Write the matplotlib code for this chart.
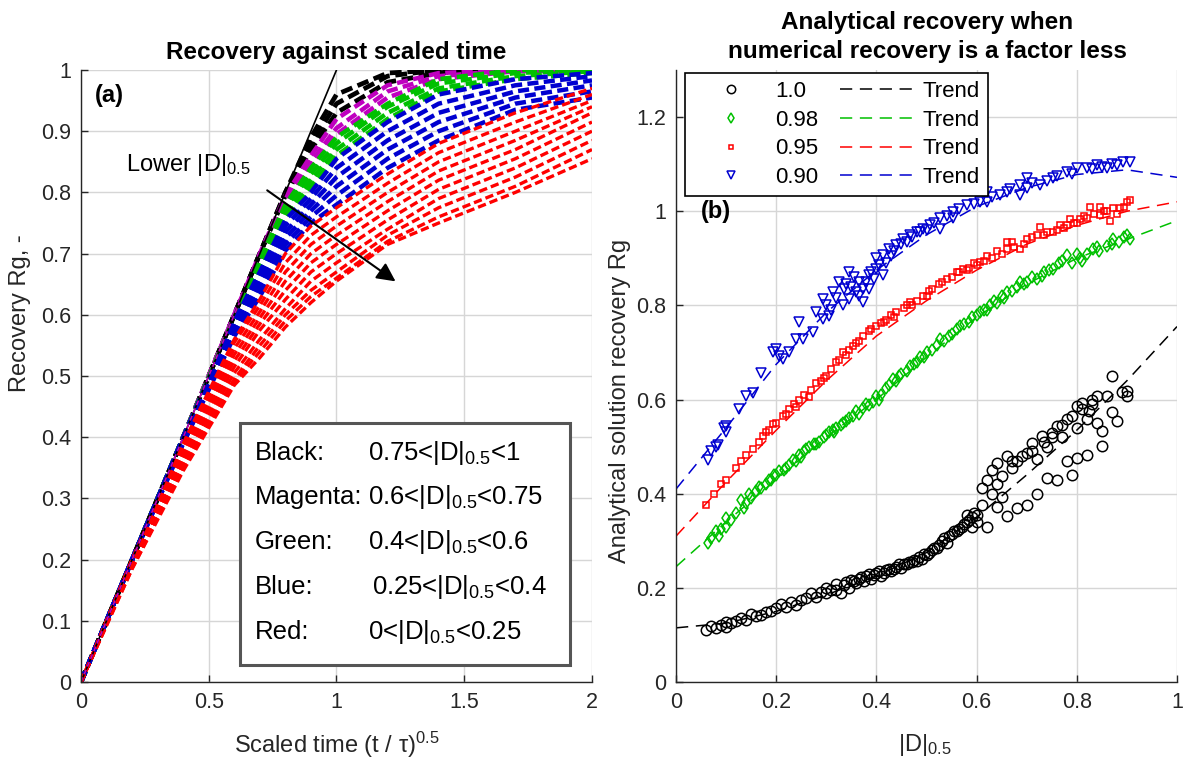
import matplotlib
matplotlib.use('Agg')
import matplotlib.pyplot as plt
from matplotlib.lines import Line2D
from matplotlib.patches import Rectangle
from matplotlib.ticker import FuncFormatter
import numpy as np

plt.rcParams['font.family'] = ['Liberation Sans', 'DejaVu Sans']
plt.rcParams['mathtext.fontset'] = 'custom'
plt.rcParams['mathtext.rm'] = 'Liberation Sans'
plt.rcParams['mathtext.it'] = 'Liberation Sans:italic'
plt.rcParams['mathtext.bf'] = 'Liberation Sans:bold'

# ---------------- panel (a): recovery curves vs scaled time ----------------
scaled_time = [0, 0.2, 0.4, 0.6, 0.7, 0.8, 0.9, 1.0, 1.2, 1.4, 1.7, 2.0]

black_curves = [
    [0, .2, .4, .6, .7, .8, .89, .96, .995, 1, 1, 1],
    [0, .2, .4, .6, .7, .8, .88, .945, .99, 1, 1, 1],
    [0, .2, .4, .6, .7, .795, .87, .93, .98, .995, 1, 1],
]
magenta_curves = [
    [0, .2, .4, .6, .7, .795, .86, .92, .975, .995, 1, 1],
    [0, .2, .4, .6, .695, .79, .85, .905, .965, .99, 1, 1],
    [0, .2, .4, .6, .69, .785, .845, .895, .955, .985, .998, 1],
]
green_curves = [
    [0, .2, .4, .595, .69, .78, .84, .89, .945, .985, 1, 1],
    [0, .2, .4, .595, .685, .775, .83, .88, .94, .978, .995, 1],
    [0, .2, .4, .59, .68, .765, .82, .87, .93, .97, .99, .998],
    [0, .2, .4, .59, .675, .76, .81, .86, .92, .965, .985, .995],
]
blue_curves = [
    [0, .2, .4, .59, .67, .755, .80, .855, .915, .96, .985, .995],
    [0, .2, .4, .585, .665, .745, .79, .84, .90, .945, .975, .99],
    [0, .2, .395, .58, .655, .735, .78, .825, .885, .93, .965, .983],
    [0, .2, .395, .575, .65, .725, .77, .81, .87, .915, .955, .975],
    [0, .2, .39, .57, .64, .715, .76, .795, .855, .90, .945, .965],
    [0, .2, .39, .565, .63, .705, .75, .78, .84, .885, .935, .955],
]
red_curves = [
    [0, .2, .39, .56, .625, .70, .745, .775, .83, .88, .93, .97],
    [0, .2, .385, .555, .615, .685, .73, .76, .815, .865, .915, .96],
    [0, .195, .38, .545, .605, .67, .715, .745, .80, .85, .90, .95],
    [0, .195, .375, .535, .595, .655, .70, .73, .785, .835, .885, .94],
    [0, .195, .37, .525, .585, .64, .685, .715, .77, .82, .87, .93],
    [0, .19, .365, .515, .575, .625, .67, .70, .755, .805, .855, .915],
    [0, .19, .36, .505, .56, .61, .655, .685, .74, .79, .84, .90],
    [0, .19, .355, .495, .55, .60, .64, .67, .73, .775, .825, .885],
    [0, .185, .35, .49, .54, .59, .63, .66, .72, .76, .81, .87],
    [0, .185, .345, .485, .53, .58, .62, .655, .715, .75, .80, .855],
]
early_line_x = [0, 1.05]
early_line_y = [0, 1.05]

box_labels = ['Black:', 'Magenta:', 'Green:', 'Blue:', 'Red:']
box_ranges = [r'0.75<|D|$_{0.5}$<1', r'0.6<|D|$_{0.5}$<0.75', r'0.4<|D|$_{0.5}$<0.6',
              r'0.25<|D|$_{0.5}$<0.4', r'0<|D|$_{0.5}$<0.25']

# ---------------- panel (b): analytical vs numerical recovery ----------------
d_grid = [0, .1, .2, .3, .4, .5, .6, .7, .8, .9, 1.0]
trend_100 = [.115, .125, .15, .185, .225, .275, .35, .44, .535, .64, .755]
trend_098 = [.245, .34, .43, .52, .60, .69, .775, .845, .90, .94, .98]
trend_095 = [.31, .425, .535, .64, .735, .81, .875, .93, .97, 1.0, 1.02]
trend_090 = [.41, .54, .675, .785, .875, .95, 1.01, 1.05, 1.078, 1.088, 1.072]

d_100 = [.06, .07, .08, .09, .10, .10, .12, .13, .14, .15, .17, .19, .20, .21, .23, .24, .25, .27,
         .28, .29, .30, .31, .32, .33, .34, .35, .36, .37, .38, .39, .40, .41, .42, .43, .44, .45,
         .46, .47, .48, .49, .50, .51, .52, .53, .54, .55, .56, .57, .58, .58, .59, .59,
         .60, .61, .61, .62, .62, .63, .64, .64, .65, .65, .66, .66, .67, .68, .68, .70, .70, .71,
         .72, .72, .73, .74, .74, .75, .76, .76, .77, .78, .78, .79, .80, .80, .80, .81, .81, .82,
         .82, .83, .84, .84, .85, .85, .86, .87, .87, .88, .89, .90, .90,
         .11, .16, .18, .22, .26, .30, .32, .335, .345, .355, .365, .375, .385, .395, .405, .415,
         .425, .435, .445, .455, .465, .475, .485, .495, .505, .515, .525, .535, .545, .555, .565,
         .575, .585, .595, .60, .63, .64, .67, .69, .71, .735, .75, .77, .79, .825, .83]
rg_100 = [.110, .118, .115, .122, .117, .128, .130, .136, .132, .145, .142, .150, .158, .165, .170,
          .163, .175, .188, .180, .192, .200, .196, .208, .190, .212, .216, .210, .222, .226, .219,
          .231, .226, .238, .236, .245, .242, .250, .254, .258, .262, .270, .280, .284, .300, .296,
          .315, .320, .330, .340, .355, .330, .350,
          .340, .412, .375, .430, .330, .451, .466, .372, .438, .394, .480, .352, .455, .370, .470,
          .377, .487, .508, .473, .400, .522, .434, .500, .529, .430, .544, .520, .558, .469, .440,
          .586, .540, .476, .593, .579, .558, .483, .600, .551, .608, .501, .533, .607, .650, .573,
          .555, .615, .618, .608,
          .125, .140, .148, .160, .178, .190, .195, .205, .200, .215, .218, .214, .230, .228, .235,
          .232, .240, .240, .250, .250, .255, .260, .265, .272, .275, .285, .290, .305, .310, .320,
          .325, .335, .345, .360, .355, .400, .420, .470, .480, .490, .510, .520, .545, .565, .575,
          .590]

d_098 = [.063, .07, .08, .085, .10, .10, .11, .13, .135, .146, .15, .16, .17, .18, .19, .195, .206,
         .215, .225, .233, .24, .246, .255, .266, .275, .286, .295, .305, .313, .32, .333, .34, .353,
         .36, .373, .38, .393, .40, .41, .42, .433, .44, .45, .466, .475, .487, .50, .51, .527, .535,
         .55, .567, .575, .59, .607, .615, .627, .64, .65, .66, .67, .687, .695, .71, .72, .735, .753,
         .765, .78, .79, .807, .82, .833, .845, .86, .873, .885, .90, .906,
         .09, .12, .14, .165, .185, .20, .22, .25, .26, .28, .30, .315, .33, .345, .365, .385, .405,
         .425, .445, .46, .48, .495, .52, .545, .56, .585, .60, .62, .635, .655, .68, .70, .73, .745,
         .77, .80, .81, .84, .87, .895]
rg_098 = [.295, .305, .32, .31, .348, .33, .345, .387, .37, .40, .39, .405, .412, .42, .43, .44, .448,
          .45, .462, .472, .47, .483, .49, .50, .505, .51, .52, .53, .536, .54, .55, .555, .565, .575,
          .583, .59, .595, .607, .61, .625, .643, .64, .655, .672, .675, .69, .70, .705, .728, .725,
          .74, .757, .76, .775, .785, .79, .80, .805, .82, .828, .83, .85, .845, .86, .857, .87, .878,
          .89, .906, .89, .90, .91, .92, .915, .927, .942, .935, .949, .942,
          .325, .36, .38, .415, .43, .44, .455, .478, .495, .505, .525, .53, .545, .56, .57, .588, .60,
          .63, .65, .66, .68, .69, .715, .735, .75, .765, .78, .79, .81, .815, .84, .85, .862, .875,
          .895, .91, .895, .925, .93, .945]

d_095 = [.06, .076, .10, .12, .14, .153, .165, .173, .185, .193, .20, .213, .225, .235, .246, .255,
         .266, .28, .29, .30, .31, .32, .333, .34, .353, .36, .373, .385, .40, .41, .42, .43, .44, .455,
         .466, .48, .493, .50, .51, .525, .54, .55, .56, .573, .585, .595, .607, .62, .63, .64, .66,
         .66, .675, .687, .70, .71, .72, .727, .74, .753, .767, .775, .786, .795, .807, .815, .826,
         .835, .846, .846, .855, .866, .873, .886, .895, .90, .906,
         .09, .13, .18, .22, .24, .27, .295, .325, .345, .365, .39, .415, .435, .46, .47, .505, .53,
         .565, .58, .60, .615, .65, .67, .695, .735, .76, .78, .80, .82, .86, .88]
rg_095 = [.376, .40, .43, .455, .483, .494, .51, .522, .535, .547, .55, .565, .58, .59, .60, .61, .606,
          .636, .64, .65, .665, .679, .70, .695, .714, .72, .735, .745, .757, .762, .77, .78, .785,
          .795, .807, .81, .82, .82, .835, .845, .856, .86, .87, .878, .88, .89, .892, .905, .90, .915,
          .92, .935, .925, .92, .94, .945, .949, .966, .955, .956, .97, .965, .984, .975, .984, .99,
          1.009, .995, 1.009, .991, 1.0, .98, 1.006, 1.006, 1.01, 1.02, 1.024,
          .42, .47, .53, .57, .585, .62, .645, .685, .705, .725, .75, .765, .775, .80, .80, .83, .85,
          .87, .875, .885, .895, .91, .935, .93, .95, .96, .97, .975, .985, 1.0, .995]

d_090 = [.063, .07, .08, .083, .096, .10, .10, .126, .14, .153, .17, .193, .20, .206, .213, .226, .24,
         .246, .253, .273, .28, .293, .293, .306, .313, .326, .333, .346, .346, .36, .366, .373, .373,
         .386, .386, .40, .40, .413, .413, .426, .44, .453, .466, .48, .487, .493, .507, .527, .527,
         .553, .553, .58, .607, .62, .62, .647, .667, .687, .687, .70, .727, .753, .78, .80, .82, .84,
         .86, .88, .893, .906,
         .30, .31, .32, .335, .34, .35, .355, .365, .38, .39, .395, .405, .42, .43, .435, .45, .46,
         .47, .50, .515, .54, .565, .595, .63, .66, .70, .71, .74, .76, .79, .83, .85, .87]
rg_090 = [.472, .49, .50, .503, .54, .53, .543, .579, .607, .614, .657, .70, .707, .693, .686, .70, .728,
          .764, .728, .743, .785, .814, .771, .778, .828, .85, .80, .871, .814, .828, .85, .835, .807,
          .864, .835, .878, .90, .906, .864, .92, .928, .942, .949, .956, .956, .963, .97, .985, .963,
          .999, .985, 1.013, 1.02, 1.041, 1.02, 1.034, 1.048, 1.055, 1.034, 1.07, 1.055, 1.07, 1.084,
          1.091, 1.091, 1.098, 1.091, 1.098, 1.105, 1.105,
          .80, .79, .815, .835, .845, .84, .86, .82, .85, .87, .855, .885, .89, .905, .915, .93, .935,
          .945, .96, .975, .99, 1.005, 1.015, 1.03, 1.04, 1.05, 1.06, 1.065, 1.075, 1.08, 1.09, 1.095,
          1.10]

legend_labels = ['1.0', '0.98', '0.95', '0.90']

GREEN = '#00c000'
BLUE = '#0000d0'
TXT = '#262626'


def style_axes(ax):
    ax.spines['top'].set_visible(False)
    ax.spines['right'].set_visible(False)
    for s in ['left', 'bottom']:
        ax.spines[s].set_color(TXT)
        ax.spines[s].set_linewidth(1)
    ax.grid(True, color='#d6d6d6', lw=1)
    ax.set_axisbelow(True)
    ax.tick_params(direction='in', length=5, width=1, labelsize=15.5, colors=TXT, pad=7)
    fmt = FuncFormatter(lambda v, p: '%g' % round(v, 3))
    ax.xaxis.set_major_formatter(fmt)
    ax.yaxis.set_major_formatter(fmt)


fig = plt.figure(figsize=(11.84, 7.65), dpi=100)
ax1 = fig.add_axes([0.0684, 0.1085, 0.4316, 0.80])
ax2 = fig.add_axes([0.571, 0.1085, 0.4231, 0.80])

# ---- panel (a)
groups = [(black_curves, 'k', 3.4), (magenta_curves, 'm', 3.2), (green_curves, GREEN, 3.2),
          (blue_curves, BLUE, 3.2), (red_curves, 'r', 2.4)]
for curves, col, lw in groups:
    for c in curves:
        ax1.plot(scaled_time, c, color=col, lw=lw, dashes=(2.5, 1.2))
ax1.plot(early_line_x, early_line_y, color='k', lw=1.2)
ax1.plot(early_line_x[:1] + [0.62], early_line_y[:1] + [0.62], color='m', lw=1.2, dashes=(3, 2))

ax1.set_xlim(0, 2)
ax1.set_ylim(0, 1)
ax1.set_xticks([0, 0.5, 1, 1.5, 2])
ax1.set_yticks(np.arange(0, 1.01, 0.1))
style_axes(ax1)

ax1.annotate('', xy=(1.24, 0.652), xytext=(0.72, 0.806),
             arrowprops=dict(arrowstyle='-|>', color='k', lw=1.5, mutation_scale=28))
ax1.text(0.175, 0.845, r'Lower |D|$_{0.5}$', fontsize=17, va='center', ha='left')
ax1.text(0.055, 0.958, '(a)', fontsize=17, fontweight='bold', va='center', ha='left')

ax1.add_patch(Rectangle((0.622, 0.028), 1.292, 0.395, facecolor='white', edgecolor='#555555',
                        lw=2.2, zorder=5))
row_y = [0.374, 0.302, 0.229, 0.155, 0.082]
val_x = [1.125, 1.125, 1.125, 1.14, 1.125]
for lab, rng, yy, vx in zip(box_labels, box_ranges, row_y, val_x):
    ax1.text(0.681, yy, lab, fontsize=18.5, va='center', ha='left', zorder=6)
    ax1.text(vx, yy, rng, fontsize=18.5, va='center', ha='left', zorder=6)

ax1.text(0.5, 1.029, 'Recovery against scaled time', transform=ax1.transAxes,
         fontsize=17.5, fontweight='bold', ha='center', va='center')
ax1.text(0.5, -0.103, r'Scaled time (t / τ)$^{0.5}$', transform=ax1.transAxes,
         fontsize=17, ha='center', va='center', color=TXT)
ax1.text(-0.119, 0.603, 'Recovery Rg, -', transform=ax1.transAxes, rotation=90,
         fontsize=17, ha='center', va='center', color=TXT)

# ---- panel (b)
series = [(d_100, rg_100, trend_100, 'k', 'o', 7.5),
          (d_098, rg_098, trend_098, GREEN, 'd', 6.5),
          (d_095, rg_095, trend_095, 'r', 's', 4.0),
          (d_090, rg_090, trend_090, BLUE, 'v', 7.5)]
marker_handles = []
trend_handles = []
for dx, ry, tr, col, mk, ms in series:
    ax2.plot(d_grid, tr, color=col, lw=1.1, dashes=(8, 5))
    ax2.plot(dx, ry, linestyle='none', marker=mk, ms=ms, mfc='none', mec=col, mew=1.1)
    marker_handles.append(Line2D([], [], linestyle='none', marker=mk, ms=ms - 1.5, mfc='none',
                                 mec=col, mew=1.1))
    trend_handles.append(Line2D([], [], color=col, lw=1.1, dashes=(8, 5)))

ax2.set_xlim(0, 1)
ax2.set_ylim(0, 1.3)
ax2.set_xticks(np.arange(0, 1.01, 0.2))
ax2.set_yticks(np.arange(0, 1.21, 0.2))
style_axes(ax2)

leg = ax2.legend(marker_handles + trend_handles, legend_labels + ['Trend'] * 4, ncol=2,
                 loc='upper left', bbox_to_anchor=(0.018, 0.995), borderaxespad=0, fontsize=16,
                 handlelength=3.4, handletextpad=0.3, columnspacing=1.0, labelspacing=0.35,
                 borderpad=0.35, fancybox=False, framealpha=1, edgecolor='k')
leg.get_frame().set_linewidth(1.2)

ax2.text(0.05, 1.0, '(b)', fontsize=17, fontweight='bold', va='center', ha='left')
ax2.text(0.501, 1.054, 'Analytical recovery when\nnumerical recovery is a factor less',
         transform=ax2.transAxes, fontsize=17.5, fontweight='bold', ha='center', va='center',
         linespacing=1.3)
ax2.text(0.497, -0.103, r'|D|$_{0.5}$', transform=ax2.transAxes,
         fontsize=17, ha='center', va='center', color=TXT)
ax2.text(-0.112, 0.46, 'Analytical solution recovery Rg', transform=ax2.transAxes, rotation=90,
         fontsize=17, ha='center', va='center', color=TXT)

fig.savefig('out.png', dpi=100)
